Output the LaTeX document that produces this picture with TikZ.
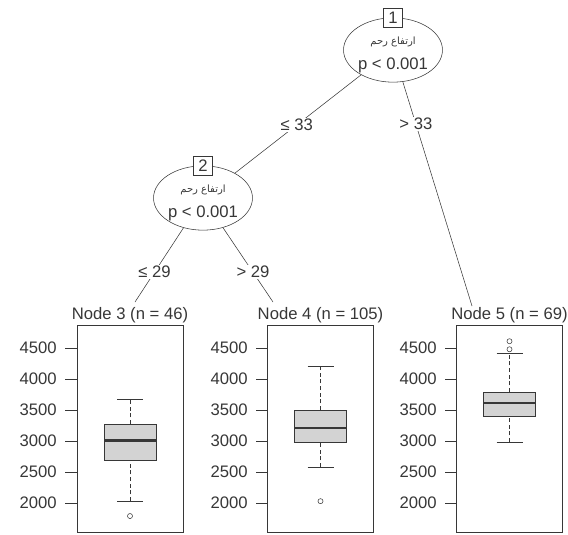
\documentclass[tikz,border=0pt]{standalone}
\usepackage{fontspec}
\setmainfont{Liberation Sans}
\newfontfamily\arabicfont[Script=Arabic]{DejaVu Sans}
\TeXXeTstate=1
\usetikzlibrary{shapes.geometric,backgrounds}
\definecolor{cLine}{RGB}{55,55,55}
\definecolor{cBox}{RGB}{211,211,211}

\begin{document}
\begin{tikzpicture}[
  x=0.75pt, y=-0.75pt,
  font=\fontsize{12.5}{14}\selectfont, text=cLine,
  inner/.style={ellipse, draw=cLine, fill=white, thin, inner sep=0pt,
    minimum width=72pt, minimum height=46.5pt, align=center},
  idbox/.style={draw=cLine, fill=white, thin, inner sep=0pt,
    minimum size=14.5pt},
  panel/.style={draw=cLine, thin, minimum width=79.5pt,
    minimum height=155pt, inner sep=0pt},
  title/.style={anchor=south, inner sep=1pt},
  edge/.style={draw=cLine, thin},
  elabel/.style={fill=white, inner sep=1pt},
  whisk/.style={draw=cLine, thin, dash pattern=on 3pt off 2pt},
  bbox/.style={draw=cLine, thin, fill=cBox},
  median/.style={draw=cLine, line width=2pt},
]
\useasboundingbox (0,0) rectangle (568,535);

% Inner nodes.
\node[inner] (n1) at (393,50)
  {\rule{0pt}{13pt}{\arabicfont\fontsize{7.5}{8}\selectfont\beginR ارتفاع رحم\endR}\\[4.5pt] p < 0.001};
\node[idbox] (id1) at (n1.north) {1};
\node[inner] (n2) at (203,198)
  {\rule{0pt}{13pt}{\arabicfont\fontsize{7.5}{8}\selectfont\beginR ارتفاع رحم\endR}\\[4.5pt] p < 0.001};
\node[idbox] (id2) at (n2.north) {2};

% Terminal panels.
\node[panel] (t3) at (130,428.5) {};
\node[panel] (t4) at (320.5,428.5) {};
\node[panel] (t5) at (509.5,428.5) {};
\node[title] (h3) at (t3.north) {Node 3 (n = 46)};
\node[title] (h4) at (t4.north) {Node 4 (n = 105)};
\node[title] (h5) at (t5.north) {Node 5 (n = 69)};

\coordinate (e3) at (135,302);
\coordinate (e4) at (273,302);
\coordinate (e5) at (472,306);

\begin{scope}[on background layer]
\draw[edge] (n1.center) -- node[elabel, pos=0.507] {≤ 33} (n2.center);
\draw[edge] (n1.center) -- node[elabel, pos=0.29] {> 33} (e5);
\draw[edge] (n2.center) -- node[elabel, pos=0.714] {≤ 29} (e3);
\draw[edge] (n2.center) -- node[elabel, pos=0.714] {> 29} (e4);
\end{scope}

% Boxplots, y in data units.
\begin{scope}[y=0.0465pt, yshift=-470.25pt]
\foreach \xl in {77,268,457}
  \foreach \v in {2000,2500,...,4500} {
    \draw[cLine, thin] (\xl-12,\v) -- (\xl,\v);
    \node[anchor=east, inner sep=0pt] at (\xl-20,\v) {\v};
  }
\foreach \cx/\lo/\qa/\md/\qb/\hi in {130/2030/2695/3005/3275/3675,
    320.5/2580/2985/3210/3500/4210, 509.5/2985/3405/3615/3790/4420} {
  \draw[whisk] (\cx,\lo) -- (\cx,\qa) (\cx,\qb) -- (\cx,\hi);
  \draw[cLine, thin] (\cx-13,\lo) -- (\cx+13,\lo) (\cx-13,\hi) -- (\cx+13,\hi);
  \draw[bbox] (\cx-26,\qa) rectangle (\cx+26,\qb);
  \draw[median] (\cx-26,\md) -- (\cx+26,\md);
}
\foreach \cx/\v in {130/1790, 320.5/2030, 509.5/4480, 509.5/4610}
  \draw[cLine, thin] (\cx,\v) circle[radius=1.9pt];
\end{scope}

\end{tikzpicture}
\end{document}
